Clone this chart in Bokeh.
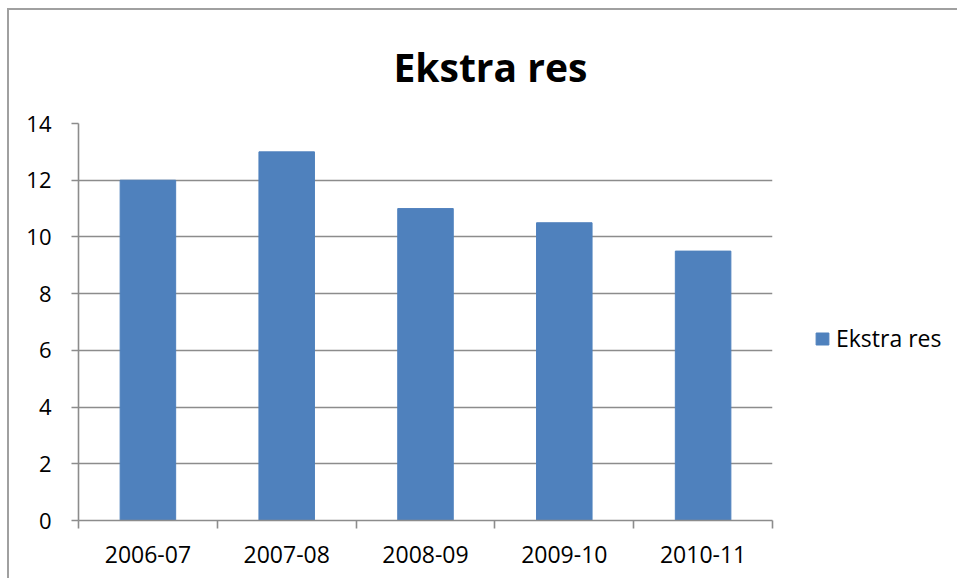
from bokeh.plotting import figure
from bokeh.models import FixedTicker, Range1d, Legend, LegendItem
from bokeh.embed import file_html
from bokeh.resources import INLINE

categories = ["2006-07", "2007-08", "2008-09", "2009-10", "2010-11"]
values = [12, 13, 11, 10.5, 9.5]
yticks = [0, 2, 4, 6, 8, 10, 12, 14]
series_name = "Ekstra res"
title_text = "Ekstra res"

FONT = "Open Sans"
GRID = "#8c8c8c"
BAR = "#4f81bd"

xs = [i + 0.5 for i in range(len(categories))]

p = figure(frame_width=694, frame_height=397,
           x_range=Range1d(0, len(categories)), y_range=Range1d(0, 14),
           output_backend="svg", toolbar_location=None,
           min_border_left=69, min_border_right=184,
           min_border_top=113, min_border_bottom=58)
p.styles = {"border-top": "2px solid #a0a0a0", "border-left": "2px solid #a0a0a0",
            "margin-left": "7px", "margin-top": "8px"}
p.outline_line_color = None
p.background_fill_color = "white"
p.border_fill_color = "white"

r = p.vbar(x=xs, top=values, width=0.4, color=BAR, line_color=BAR)

p.xgrid.visible = False
p.ygrid.ticker = FixedTicker(ticks=yticks)
p.ygrid.grid_line_color = GRID
p.ygrid.grid_line_width = 1.6

# y axis
ya = p.yaxis[0]
ya.ticker = FixedTicker(ticks=yticks)
ya.axis_line_color = GRID
ya.axis_line_width = 1.6
ya.major_tick_line_color = GRID
ya.major_tick_line_width = 1.6
ya.major_tick_out = 7
ya.major_tick_in = 0
ya.minor_tick_line_color = None
ya.major_label_standoff = 20
ya.major_label_text_font = FONT
ya.major_label_text_font_size = "22px"
ya.major_label_text_color = "black"

# x axis
xa = p.xaxis[0]
xa.ticker = FixedTicker(ticks=xs, minor_ticks=list(range(len(categories) + 1)))
xa.major_label_overrides = {x: c for x, c in zip(xs, categories)}
xa.axis_line_color = GRID
xa.axis_line_width = 1.6
xa.major_tick_out = 0
xa.major_tick_in = 0
xa.major_tick_line_color = None
xa.minor_tick_line_color = GRID
xa.minor_tick_line_width = 1.6
xa.minor_tick_out = 8
xa.minor_tick_in = 0
xa.major_label_standoff = 17
xa.major_label_text_font = FONT
xa.major_label_text_font_size = "23px"
xa.major_label_text_color = "black"

# title
p.title.text = title_text
p.title.text_font = FONT
p.title.text_font_size = "39px"
p.title.text_font_style = "bold"
p.title.text_color = "black"
p.title.align = "left"
p.title.vertical_align = "top"
p.title.offset = 315
p.title.standoff = 58

legend = Legend(items=[LegendItem(label=series_name, renderers=[r])],
                location=(42, 166), orientation="vertical",
                glyph_width=16, glyph_height=15, label_standoff=6,
                padding=0, margin=0, border_line_color=None,
                background_fill_alpha=0,
                label_text_font=FONT, label_text_font_size="23px",
                label_text_color="black")
p.add_layout(legend, "right")

open("out.html", "w").write(file_html(p, INLINE))
